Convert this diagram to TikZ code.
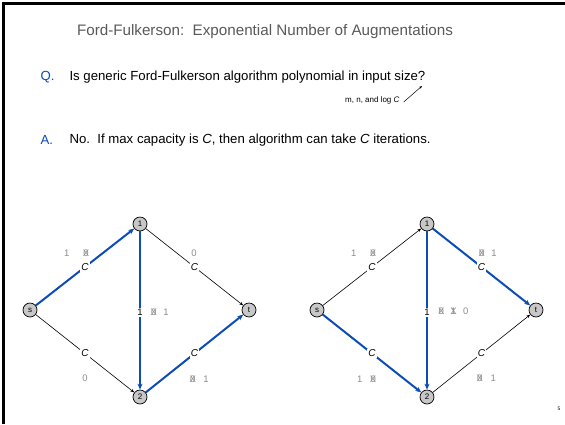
\documentclass[tikz,border=0pt]{standalone}
\usepackage{fontspec}
\setmainfont{Liberation Sans}
\usetikzlibrary{arrows.meta}

\definecolor{augblue}{RGB}{12,76,182}
\newcommand{\xo}[1]{\ooalign{#1\cr\hidewidth X\hidewidth\cr}}

\tikzset{
  vtx/.style={circle, draw, line width=0.7pt, fill=black!22, minimum size=14pt, inner sep=0pt, font=\fontsize{8}{9}\selectfont},
  capbox/.style={fill=white, inner sep=1.3pt, font=\fontsize{10}{11}\selectfont\itshape},
  flowlbl/.style={text=black!45, inner sep=0pt, font=\fontsize{9.5}{10}\selectfont},
  plain/.style={-{Stealth[length=4pt,width=3pt]}, line width=0.6pt},
  aug/.style={-{Stealth[length=6pt,width=5pt]}, line width=2pt, draw=augblue},
  bigtext/.style={anchor=west, font=\fontsize{13.2}{15}\selectfont},
}

\begin{document}
\begin{tikzpicture}[x=1pt,y=-1pt]

\useasboundingbox (0,0) rectangle (565,424);

% frame
\draw[line width=3pt] (3,424) -- (3,3) -- (565,3);

% text
\node[text=black!65, font=\fontsize{15.2}{17}\selectfont] (title) at (265,32) {Ford-Fulkerson:\ \ Exponential Number of Augmentations};

\node[bigtext, text=augblue] (q) at (37,77) {Q.};
\node[bigtext] (qtext) at (66,77) {Is generic Ford-Fulkerson algorithm polynomial in input size?};
\node[anchor=west, inner sep=0pt, font=\fontsize{8}{9}\selectfont] (mnote) at (345,100) {m, n, and log \textit{C}};
\coordinate (mtip) at (422,86);
\draw[-{Stealth[length=3pt,width=2.5pt]}, line width=0.5pt] ([xshift=4pt,yshift=-2pt]mnote.east) -- (mtip);

\node[bigtext, text=augblue] (a) at (37,140) {A.};
\node[bigtext] (atext) at (66,140) {No.\ \ If max capacity is \textit{C}, then algorithm can take \textit{C} iterations.};

\node[font=\fontsize{5}{6}\selectfont] (pg) at (559,409) {5};

% left graph
\begin{scope}[name prefix=L-]
  \node[vtx] (s) at (30,310) {s};
  \node[vtx] (n1) at (140,224) {1};
  \node[vtx] (n2) at (140,397) {2};
  \node[vtx] (t) at (249,310) {t};

  \draw[aug] (s) -- node[capbox] (c1) {C} (n1);
  \draw[plain] (s) -- node[capbox] (c2) {C} (n2);
  \draw[plain] (n1) -- node[capbox] (c3) {C} (t);
  \draw[aug] (n2) -- node[capbox] (c4) {C} (t);
  \draw[aug] (n1) -- node[capbox, pos=0.51, font=\fontsize{9.5}{10}\selectfont] (c5) {1} (n2);

  \node[flowlbl] (f1) at (76.5,253) {1\hspace{14pt}\xo{0}};
  \node[flowlbl] (f2) at (85,378) {0};
  \node[flowlbl] (f3) at (194,253) {0};
  \node[flowlbl] (f4) at (199.5,379) {\xo{0}\hspace{8pt}1};
  \node[flowlbl] (f5) at (160,312) {\xo{0}\hspace{7pt}1};
\end{scope}

% right graph
\begin{scope}[shift={(287,0)}, name prefix=R-]
  \node[vtx] (s) at (30,310) {s};
  \node[vtx] (n1) at (140,224) {1};
  \node[vtx] (n2) at (140,397) {2};
  \node[vtx] (t) at (249,310) {t};

  \draw[plain] (s) -- node[capbox] (c1) {C} (n1);
  \draw[aug] (s) -- node[capbox] (c2) {C} (n2);
  \draw[aug] (n1) -- node[capbox] (c3) {C} (t);
  \draw[plain] (n2) -- node[capbox] (c4) {C} (t);
  \draw[aug] (n1) -- node[capbox, pos=0.51, font=\fontsize{9.5}{10}\selectfont] (c5) {1} (n2);

  \node[flowlbl] (f1) at (76.5,253) {1\hspace{14pt}\xo{0}};
  \node[flowlbl] (f2) at (79.5,379) {1\hspace{8pt}\xo{0}};
  \node[flowlbl] (f3) at (201,253) {\xo{0}\hspace{7pt}1};
  \node[flowlbl] (f4) at (199.5,378) {\xo{0}\hspace{8pt}1};
  \node[flowlbl] (f5) at (166.5,311) {\xo{0}\hspace{7pt}\xo{1}\hspace{7pt}0};
\end{scope}

\end{tikzpicture}
\end{document}
